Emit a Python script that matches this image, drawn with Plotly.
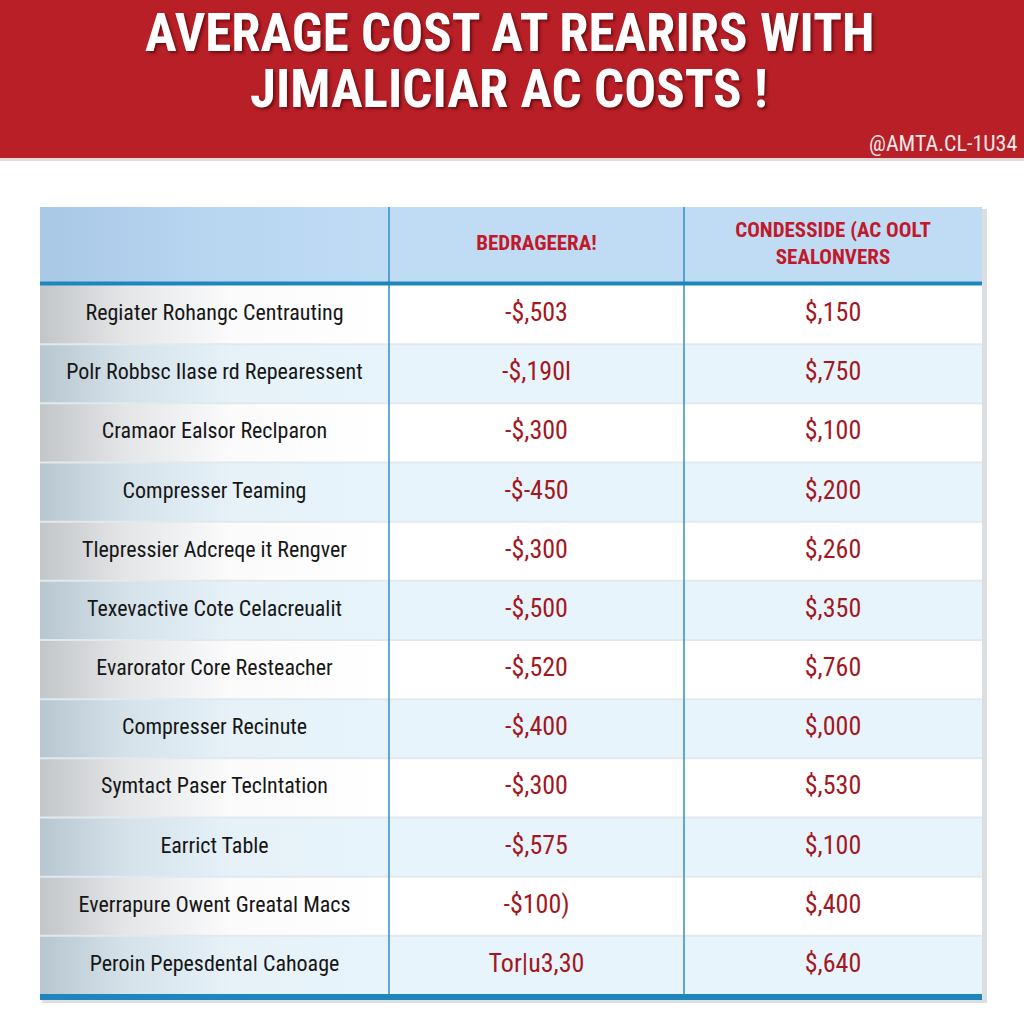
import plotly.graph_objects as go

# ---- data ----
header_labels = ["", "BEDRAGEERA!", "CONDESSIDE (AC OOLT<br>SEALONVERS"]
repairs = [
    "Regiater Rohangc Centrauting",
    "Polr Robbsc Ilase rd Repearessent",
    "Cramaor Ealsor Reclparon",
    "Compresser Teaming",
    "Tlepressier Adcreqe it Rengver",
    "Texevactive Cote Celacreualit",
    "Evarorator Core Resteacher",
    "Compresser Recinute",
    "Symtact Paser Teclntation",
    "Earrict Table",
    "Everrapure Owent Greatal Macs",
    "Peroin Pepesdental Cahoage",
]
average_costs = ["-$,503", "-$,190l", "-$,300", "-$-450", "-$,300", "-$,500",
                 "-$,520", "-$,400", "-$,300", "-$,575", "-$100)", "Tor|u3,30"]
condenser_costs = ["$,150", "$,750", "$,100", "$,200", "$,260", "$,350",
                   "$,760", "$,000", "$,530", "$,100", "$,400", "$,640"]
title_lines = ["AVERAGE COST AT REARIRS WITH", "JIMALICIAR AC COSTS !"]
watermark = "@AMTA.CL-1U34"

# ---- layout constants (pixels on a 1024 x 1024 canvas) ----
W = H = 1024
FONT = "Liberation Sans Narrow, Roboto Condensed, DejaVu Sans Condensed, Roboto, sans-serif"
RED = "#b81f27"
VAL_RED = "#a3171f"
BLUE_LINE = "#2f8fbf"
COL_EDGES = [40, 389, 684, 982]
HEAD_TOP, HEAD_BOT, TABLE_BOT = 207, 285, 995

n = len(repairs)
row_h = (TABLE_BOT - HEAD_BOT) / n
row_top = [HEAD_BOT + i * row_h for i in range(n)]
row_mid = [t + row_h / 2 for t in row_top]
col_mid = [(COL_EDGES[k] + COL_EDGES[k + 1]) / 2 for k in range(3)]

fig = go.Figure()
shapes = []

# table drop shadow
shapes.append(dict(type="rect", xref="x", yref="y", x0=COL_EDGES[0] + 2, x1=COL_EDGES[-1] + 5,
                   y0=HEAD_TOP + 2, y1=TABLE_BOT + 8, fillcolor="#dcdfe2",
                   line=dict(width=0), layer="below"))
# red title band
shapes.append(dict(type="rect", xref="x", yref="y", x0=0, x1=W, y0=0, y1=158,
                   fillcolor=RED, line=dict(width=0), layer="below"))
shapes.append(dict(type="line", xref="x", yref="y", x0=0, x1=W, y0=159.5, y1=159.5,
                   line=dict(color="#ead8d9", width=3), layer="below"))
# header background (value columns)
shapes.append(dict(type="rect", xref="x", yref="y", x0=COL_EDGES[1], x1=COL_EDGES[-1],
                   y0=HEAD_TOP, y1=HEAD_BOT, fillcolor="#c0dcf5",
                   line=dict(width=0), layer="below"))
# row backgrounds (value columns)
for i in range(n):
    fill = "#ffffff" if i % 2 == 0 else "#e8f4fb"
    shapes.append(dict(type="rect", xref="x", yref="y", x0=COL_EDGES[1], x1=COL_EDGES[-1],
                       y0=row_top[i], y1=row_top[i] + row_h, fillcolor=fill,
                       line=dict(width=0), layer="below"))


def gradient_cell(x0, x1, y0, y1, cs):
    fig.add_trace(go.Scatter(
        x=[x0, x1, x1, x0, x0], y=[y0, y0, y1, y1, y0],
        mode="none", fill="toself",
        fillgradient=dict(type="horizontal", colorscale=cs),
        hoverinfo="skip", showlegend=False,
    ))


# header first-column gradient
gradient_cell(COL_EDGES[0], COL_EDGES[1], HEAD_TOP, HEAD_BOT,
              [[0, "#a9c8e6"], [0.5, "#b9d6f1"], [1, "#c0dcf5"]])
# gradient backgrounds of the first column
for i in range(n):
    if i % 2 == 0:
        cs = [[0, "#c3c6c9"], [0.25, "#e4e6e8"], [0.55, "#fbfbfc"], [1, "#ffffff"]]
    else:
        cs = [[0, "#b8c6d0"], [0.25, "#d5e2ea"], [0.55, "#e6f1f8"], [1, "#e8f4fb"]]
    gradient_cell(COL_EDGES[0], COL_EDGES[1], row_top[i], row_top[i] + row_h, cs)

# row separators
for i in range(1, n):
    shapes.append(dict(type="line", xref="x", yref="y", x0=COL_EDGES[0], x1=COL_EDGES[-1],
                       y0=row_top[i], y1=row_top[i], line=dict(color="#e2e9ee", width=2),
                       layer="above"))
# column separators
for xv in COL_EDGES[1:3]:
    shapes.append(dict(type="line", xref="x", yref="y", x0=xv, x1=xv,
                       y0=HEAD_TOP, y1=TABLE_BOT, line=dict(color=BLUE_LINE, width=1.5),
                       layer="above"))
# header bottom line and table bottom border
shapes.append(dict(type="line", xref="x", yref="y", x0=COL_EDGES[0], x1=COL_EDGES[-1],
                   y0=HEAD_BOT - 1.5, y1=HEAD_BOT - 1.5, line=dict(color="#1f86bd", width=4),
                   layer="above"))
shapes.append(dict(type="line", xref="x", yref="y", x0=COL_EDGES[0], x1=COL_EDGES[-1],
                   y0=TABLE_BOT + 2, y1=TABLE_BOT + 2, line=dict(color="#1f86bd", width=6),
                   layer="above"))

# header text
fig.add_trace(go.Scatter(
    x=col_mid[1:], y=[(HEAD_TOP + HEAD_BOT) / 2 - 1] * 2, text=header_labels[1:],
    mode="text", textposition="middle center", cliponaxis=False,
    textfont=dict(family=FONT, size=21, color="#c0192a", weight="bold"),
    hoverinfo="skip", showlegend=False,
))
# body text
fig.add_trace(go.Scatter(
    x=[col_mid[0]] * n, y=row_mid, text=repairs, mode="text",
    textposition="middle center", cliponaxis=False,
    textfont=dict(family=FONT, size=22, color="#161616"),
    hoverinfo="skip", showlegend=False,
))
fig.add_trace(go.Scatter(
    x=[col_mid[1]] * n, y=row_mid, text=average_costs, mode="text",
    textposition="middle center", cliponaxis=False,
    textfont=dict(family=FONT, size=26, color=VAL_RED),
    hoverinfo="skip", showlegend=False,
))
fig.add_trace(go.Scatter(
    x=[col_mid[2]] * n, y=row_mid, text=condenser_costs, mode="text",
    textposition="middle center", cliponaxis=False,
    textfont=dict(family=FONT, size=26, color=VAL_RED),
    hoverinfo="skip", showlegend=False,
))

shadow = "2px 2px 3px rgba(60,0,0,0.6)"
annotations = [
    dict(text=title_lines[0], x=W / 2 - 3, y=33, xref="x", yref="y",
         showarrow=False, xanchor="center", yanchor="middle",
         font=dict(family=FONT, size=53, color="white", weight="bold", shadow=shadow)),
    dict(text=title_lines[1], x=509, y=89, xref="x", yref="y",
         showarrow=False, xanchor="center", yanchor="middle",
         font=dict(family=FONT, size=53, color="white", weight="bold", shadow=shadow)),
    dict(text=watermark, x=1019, y=143, xref="x", yref="y",
         showarrow=False, xanchor="right", yanchor="middle",
         font=dict(family=FONT, size=22, color="#f3e6e6")),
]

fig.update_layout(
    width=W, height=H,
    margin=dict(l=0, r=0, t=0, b=0, pad=0),
    paper_bgcolor="white", plot_bgcolor="white",
    xaxis=dict(range=[0, W], visible=False, fixedrange=True),
    yaxis=dict(range=[H, 0], visible=False, fixedrange=True),
    shapes=shapes, annotations=annotations,
    showlegend=False,
)

fig.write_html("out.html", config={"displayModeBar": False},
               post_script="document.body.style.margin='0px';")
